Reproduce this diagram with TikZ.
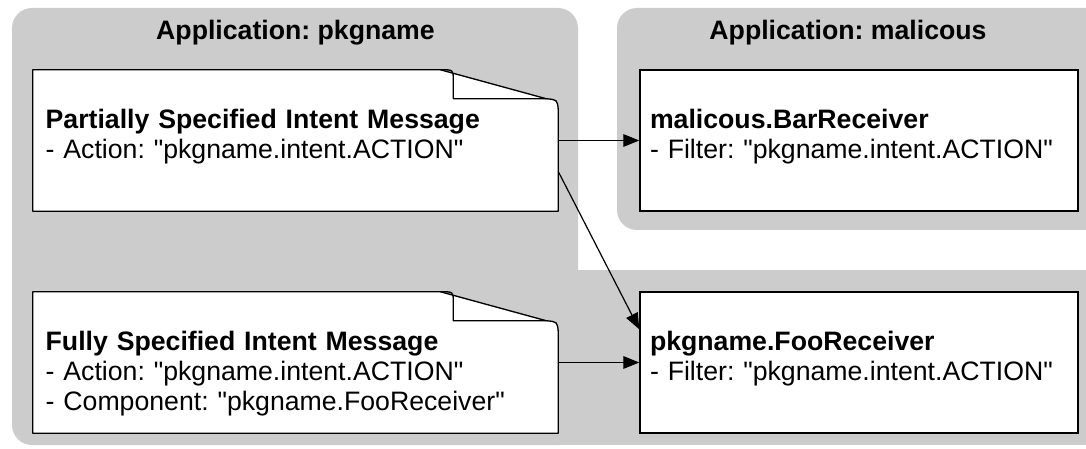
\documentclass[tikz,border=0pt]{standalone}
\usepackage{fontspec}
\setmainfont{Liberation Sans}[Ligatures=TeXOff]
\usepackage{xcolor}
\usetikzlibrary{arrows.meta,calc}
\definecolor{panelgray}{RGB}{204,204,204}
\frenchspacing

\tikzset{
  panel/.style={fill=panelgray, rounded corners=15pt},
  apptitle/.style={font=\bfseries\fontsize{20}{24}\selectfont},
  boxtext/.style={align=left, inner ysep=0pt, text height=44pt, text depth=61.75pt,
    font=\fontsize{20}{22.5}\selectfont},
  msgbox/.style={boxtext, fill=white, minimum width=393.75pt, text width=374.75pt,
    inner xsep=9.5pt},
  recvbox/.style={boxtext, draw, line width=1.1pt, fill=white, minimum width=328.5pt,
    text width=313.5pt, inner xsep=7.5pt},
  paperline/.style={line width=1pt, line join=round},
  flow/.style={-{Triangle[length=12pt,width=9.5pt]}, line width=0.9pt}
}

\begin{document}
\begin{tikzpicture}[x=0.75pt, y=-0.75pt]
  \clip (0,0) rectangle (1086,449);
  % application panels
  \fill[panel] (12,8) rectangle (578,445);
  \fill[panelgray] (560,270) rectangle (1110,445);
  \fill[panel] (617,8) rectangle (1110,230);
  \node[apptitle] (appA) at (295.5,33) {Application: pkgname};
  \node[apptitle] (appB) at (848,33) {Application: malicous};

  % intent messages
  \node[msgbox] (partial) at (295.5,140.5)
    {\textbf{Partially Specified Intent Message}\\- Action: "pkgname.intent.ACTION"};
  \node[msgbox] (full) at (295.5,362.5)
    {\textbf{Fully Specified Intent Message}\\- Action: "pkgname.intent.ACTION"\\- Component: "pkgname.FooReceiver"};
  \foreach \m in {partial,full}{
    \fill[panelgray] ($(\m.north east)+(-118,0)$) -- (\m.north east) -- ($(\m.north east)+(0,40)$)
      .. controls ($(\m.north east)+(-1,30)$) .. ($(\m.north east)+(-12,29)$) -- cycle;
    \draw[paperline] (\m.south west) -- (\m.north west) -- ($(\m.north east)+(-118,0)$)
      -- ($(\m.north east)+(-12,29)$) .. controls ($(\m.north east)+(-1,30)$) .. ($(\m.north east)+(0,40)$)
      -- (\m.south east) -- cycle;
    \draw[paperline] ($(\m.north east)+(-118,0)$) .. controls ($(\m.north east)+(-105,0)$) .. ($(\m.north east)+(-105,10)$)
      -- ($(\m.north east)+(-105,29)$) -- ($(\m.north east)+(-12,29)$);
  }

  % receivers
  \node[recvbox] (bar) at (859,140.5)
    {\textbf{malicous.BarReceiver}\\- Filter: "pkgname.intent.ACTION"};
  \node[recvbox] (foo) at (859,362.5)
    {\textbf{pkgname.FooReceiver}\\- Filter: "pkgname.intent.ACTION"};

  % intent delivery
  \draw[flow] (partial.east) -- (bar.west);
  \draw[flow] ([yshift=-23.25pt]partial.east) -- ([yshift=-28.5pt]foo.north west);
  \draw[flow] (full.east) -- (foo.west);
\end{tikzpicture}
\end{document}
